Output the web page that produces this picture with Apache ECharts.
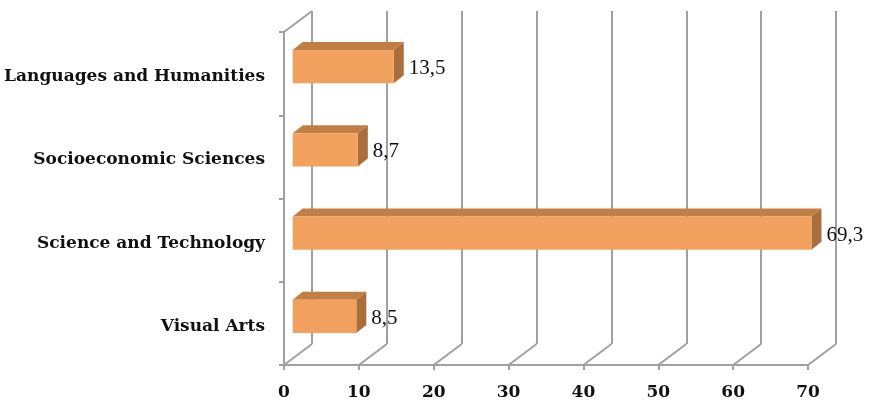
<!DOCTYPE html>
<html>
<head>
<meta charset="utf-8">
<script src="https://cdn.jsdelivr.net/npm/echarts@6/dist/echarts.min.js"></script>
<style>html,body{margin:0;padding:0;background:#fff;}#c{width:869px;height:404px;}</style>
</head>
<body>
<div id="c"></div>
<script>
const categories = ['Languages and Humanities', 'Socioeconomic Sciences', 'Science and Technology', 'Visual Arts'];
const values = [13.5, 8.7, 69.3, 8.5];
const xTicks = [0, 10, 20, 30, 40, 50, 60, 70];

const AX = '#a0a0a0';
const FONT = '"Liberation Serif", "DejaVu Serif", serif';
const BFONT = '"DejaVu Serif", "Liberation Serif", serif';
const DEPTH_X = 28, DEPTH_Y = -21;       // wall depth
const BAR_OX = 8.7, BAR_OY = -7;         // bar front offset inside depth
const BAR_DX = 10, BAR_DY = -8;          // bar depth

const chart = echarts.init(document.getElementById('c'), null, {renderer: 'canvas'});

const grids = [
  {left: 284, top: 32, width: 524, height: 333},
  {left: 284 + DEPTH_X, top: 32 + DEPTH_Y, width: 524, height: 333}
];

const option = {
  backgroundColor: '#ffffff',
  animation: false,
  grid: grids,
  xAxis: [
    {gridIndex: 0, type: 'value', min: 0, max: 70, interval: 10,
     axisLine: {show: true, lineStyle: {color: AX, width: 2}},
     axisTick: {show: true, length: 5, lineStyle: {color: AX, width: 2}},
     splitLine: {show: false},
     axisLabel: {margin: 19, color: '#111', fontFamily: BFONT, fontWeight: 'bold', fontSize: 17}},
    {gridIndex: 1, type: 'value', min: 0, max: 70, interval: 10,
     axisLine: {show: false}, axisTick: {show: false}, axisLabel: {show: false},
     splitLine: {show: true, lineStyle: {color: AX, width: 2}}}
  ],
  yAxis: [
    {gridIndex: 0, type: 'category', data: categories, inverse: true,
     axisLine: {show: true, lineStyle: {color: AX, width: 2}},
     axisTick: {show: true, length: 5, lineStyle: {color: AX, width: 2}},
     splitLine: {show: false},
     axisLabel: {margin: 19, color: '#111', fontFamily: BFONT, fontWeight: 'bold', fontSize: 17,
                 verticalAlign: 'top', lineHeight: 6}},
    {gridIndex: 1, type: 'category', data: categories, inverse: true, show: false}
  ],
  series: [
    {
      type: 'custom', xAxisIndex: 0, yAxisIndex: 0, z: 1,
      data: xTicks.map(v => [v, 0]),
      renderItem: function (params, api) {
        const cs = params.coordSys;
        const x = api.coord([api.value(0), 0])[0];
        const yb = cs.y + cs.height;
        const children = [{type: 'line', shape: {x1: x, y1: yb, x2: x + DEPTH_X, y2: yb + DEPTH_Y},
                 style: {stroke: AX, lineWidth: 2}}];
        if (params.dataIndex === 0) {
          children.push({type: 'line', shape: {x1: cs.x, y1: cs.y, x2: cs.x + DEPTH_X, y2: cs.y + DEPTH_Y},
                 style: {stroke: AX, lineWidth: 2}});
        }
        return {type: 'group', children: children};
      }
    },
    {
      type: 'custom', xAxisIndex: 0, yAxisIndex: 0, z: 5,
      data: values.map((v, i) => [v, i]),
      renderItem: function (params, api) {
        const v = api.value(0), idx = api.value(1);
        const p0 = api.coord([0, idx]);
        const p1 = api.coord([v, idx]);
        const band = api.size([0, 1])[1];
        const h = band * 0.4;
        const xL = p0[0] + BAR_OX, xR = p1[0] + BAR_OX;
        const cy = p0[1] + BAR_OY;
        const yT = cy - h / 2, yB = cy + h / 2;
        const label = String(v).replace('.', ',');
        return {type: 'group', children: [
          {type: 'polygon', shape: {points: [[xL, yT], [xR, yT], [xR + BAR_DX, yT + BAR_DY], [xL + BAR_DX, yT + BAR_DY]]},
           style: {fill: '#c17f46'}},
          {type: 'polygon', shape: {points: [[xR, yT], [xR + BAR_DX, yT + BAR_DY], [xR + BAR_DX, yB + BAR_DY], [xR, yB]]},
           style: {fill: '#a96e3b'}},
          {type: 'rect', shape: {x: xL, y: yT, width: xR - xL, height: h},
           style: {fill: '#f2a05d'}},
          {type: 'text', x: xR + BAR_DX + 5, y: cy + 2,
           style: {text: label, fill: '#111', font: '21px ' + FONT, textVerticalAlign: 'middle', textAlign: 'left'}}
        ]};
      }
    }
  ]
};
chart.setOption(option);
</script>
</body>
</html>
